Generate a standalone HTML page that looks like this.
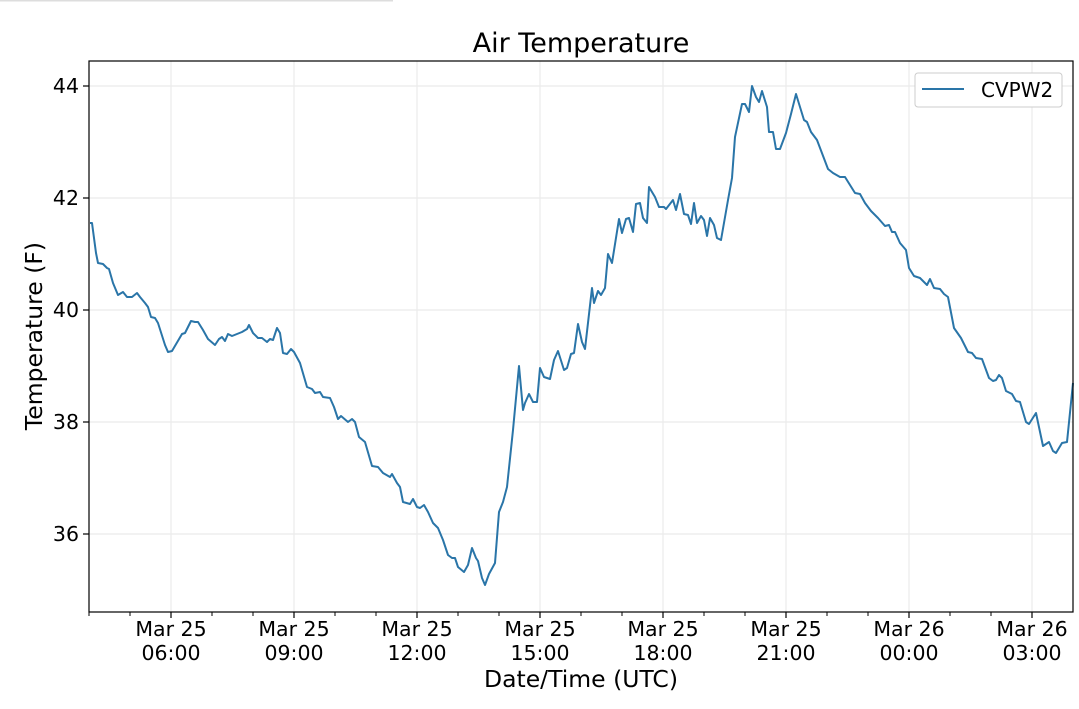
<!DOCTYPE html>
<html><head><meta charset="utf-8"><style>
body{margin:0;background:#fff;}
svg text{font-family:"DejaVu Sans","Liberation Sans",sans-serif;fill:#000;}
</style></head><body>
<svg width="1079" height="704" viewBox="0 0 1079 704" xmlns="http://www.w3.org/2000/svg">
<rect width="1079" height="704" fill="#fff"/>
<line x1="0" y1="0.5" x2="393" y2="0.5" stroke="#ddd" stroke-width="2"/>
<text x="581" y="52" font-size="27" text-anchor="middle">Air Temperature</text>
<g stroke="#ebebeb" stroke-width="1.2">
<line x1="171" y1="61" x2="171" y2="612"/><line x1="294" y1="61" x2="294" y2="612"/>
<line x1="417" y1="61" x2="417" y2="612"/><line x1="540" y1="61" x2="540" y2="612"/>
<line x1="663" y1="61" x2="663" y2="612"/><line x1="786" y1="61" x2="786" y2="612"/>
<line x1="909" y1="61" x2="909" y2="612"/><line x1="1032" y1="61" x2="1032" y2="612"/>
<line x1="89" y1="86" x2="1073" y2="86"/><line x1="89" y1="198" x2="1073" y2="198"/>
<line x1="89" y1="310" x2="1073" y2="310"/><line x1="89" y1="422" x2="1073" y2="422"/>
<line x1="89" y1="534" x2="1073" y2="534"/>
</g>
<polyline fill="none" stroke="#2a75a8" stroke-width="2" stroke-linejoin="round" points="
90,223 92,223 96,253 98,263 103,264 107,268 109,269 113,283 118,295 123,292 127,297 132,297 137,293 140,297 145,303 148,307 151,317 155,318 158,323 165,345 168,352 172,351 182,334 185,333 191,321 195,322 198,322 203,330 208,339 215,345 219,339 222,337 225,341 228,334 232,336 242,332 247,329 249,325 253,333 258,338 262,338 267,342 270,339 273,340 277,328 280,333 283,353 287,354 291,349 294,352 300,363 307,387 312,389 315,393 320,392 323,397 330,398 334,407 338,419 341,416 348,422 352,419 355,422 359,437 365,442 372,466 378,467 383,473 390,477 392,474 397,483 400,487 403,502 410,504 413,499 417,507 420,508 424,505 428,512 433,523 438,528 443,540 448,555 452,558 455,558 458,567 464,572 468,565 472,548 476,558 478,561 482,578 485,585 489,574 495,563 499,512 503,502 507,487 513,430 519,366 523,410 525,403 529,394 533,402 537,402 540,368 544,377 550,379 554,360 558,351 564,370 567,368 571,354 574,353 578,324 582,342 585,349 592,288 594,303 598,291 601,295 605,288 608,254 612,263 619,219 622,233 626,219 629,218 633,232 636,204 640,203 643,218 647,223 649,187 655,197 659,207 664,207 666,209 673,200 676,210 680,194 684,214 688,215 691,224 694,203 697,223 701,216 704,220 707,236 710,218 714,225 717,238 721,240 728,200 732,178 735,137 742,104 745,104 749,112 752,86 756,97 759,102 762,91 767,107 769,132 773,132 776,149 780,149 786,133 791,114 796,94 804,120 807,122 811,132 817,140 828,169 833,173 840,177 845,177 855,193 860,194 865,203 871,211 878,218 885,226 889,225 892,232 895,232 900,243 906,250 909,268 914,276 920,278 927,285 930,279 934,288 940,289 944,294 948,297 954,328 961,338 968,352 972,353 976,358 982,359 989,378 993,381 996,380 999,375 1002,378 1006,391 1012,394 1016,401 1020,402 1026,422 1029,424 1036,413 1043,446 1049,442 1053,451 1056,453 1062,443 1067,442 1073,383"/>
<rect x="89" y="61" width="984" height="551" fill="none" stroke="#000" stroke-width="1.2"/>
<g stroke="#000" stroke-width="1.2">
<line x1="171" y1="612" x2="171" y2="618"/><line x1="294" y1="612" x2="294" y2="618"/>
<line x1="417" y1="612" x2="417" y2="618"/><line x1="540" y1="612" x2="540" y2="618"/>
<line x1="663" y1="612" x2="663" y2="618"/><line x1="786" y1="612" x2="786" y2="618"/>
<line x1="909" y1="612" x2="909" y2="618"/><line x1="1032" y1="612" x2="1032" y2="618"/>
<g stroke-width="1">
<line x1="89" y1="612" x2="89" y2="616"/><line x1="130" y1="612" x2="130" y2="616"/>
<line x1="212" y1="612" x2="212" y2="616"/><line x1="253" y1="612" x2="253" y2="616"/>
<line x1="335" y1="612" x2="335" y2="616"/><line x1="376" y1="612" x2="376" y2="616"/>
<line x1="458" y1="612" x2="458" y2="616"/><line x1="499" y1="612" x2="499" y2="616"/>
<line x1="581" y1="612" x2="581" y2="616"/><line x1="622" y1="612" x2="622" y2="616"/>
<line x1="704" y1="612" x2="704" y2="616"/><line x1="745" y1="612" x2="745" y2="616"/>
<line x1="827" y1="612" x2="827" y2="616"/><line x1="868" y1="612" x2="868" y2="616"/>
<line x1="950" y1="612" x2="950" y2="616"/><line x1="991" y1="612" x2="991" y2="616"/>
</g>
<line x1="83" y1="86" x2="89" y2="86"/><line x1="83" y1="198" x2="89" y2="198"/>
<line x1="83" y1="310" x2="89" y2="310"/><line x1="83" y1="422" x2="89" y2="422"/>
<line x1="83" y1="534" x2="89" y2="534"/>
</g>
<g font-size="20.5" text-anchor="end">
<text x="79" y="93">44</text><text x="79" y="205">42</text><text x="79" y="317">40</text>
<text x="79" y="429">38</text><text x="79" y="541">36</text>
</g>
<g font-size="20.5" text-anchor="middle">
<text x="171" y="636">Mar 25</text><text x="171" y="660">06:00</text>
<text x="294" y="636">Mar 25</text><text x="294" y="660">09:00</text>
<text x="417" y="636">Mar 25</text><text x="417" y="660">12:00</text>
<text x="540" y="636">Mar 25</text><text x="540" y="660">15:00</text>
<text x="663" y="636">Mar 25</text><text x="663" y="660">18:00</text>
<text x="786" y="636">Mar 25</text><text x="786" y="660">21:00</text>
<text x="909" y="636">Mar 26</text><text x="909" y="660">00:00</text>
<text x="1032" y="636">Mar 26</text><text x="1032" y="660">03:00</text>
</g>
<text x="581" y="687" font-size="23.5" text-anchor="middle">Date/Time (UTC)</text>
<text transform="translate(42,336) rotate(-90)" font-size="23.5" text-anchor="middle">Temperature (F)</text>
<rect x="915" y="73" width="147" height="34" rx="3" fill="#fff" stroke="#ccc" stroke-width="1"/>
<line x1="922" y1="89" x2="964" y2="89" stroke="#2a75a8" stroke-width="2"/>
<text x="981" y="97" font-size="20">CVPW2</text>
</svg>
</body></html>
